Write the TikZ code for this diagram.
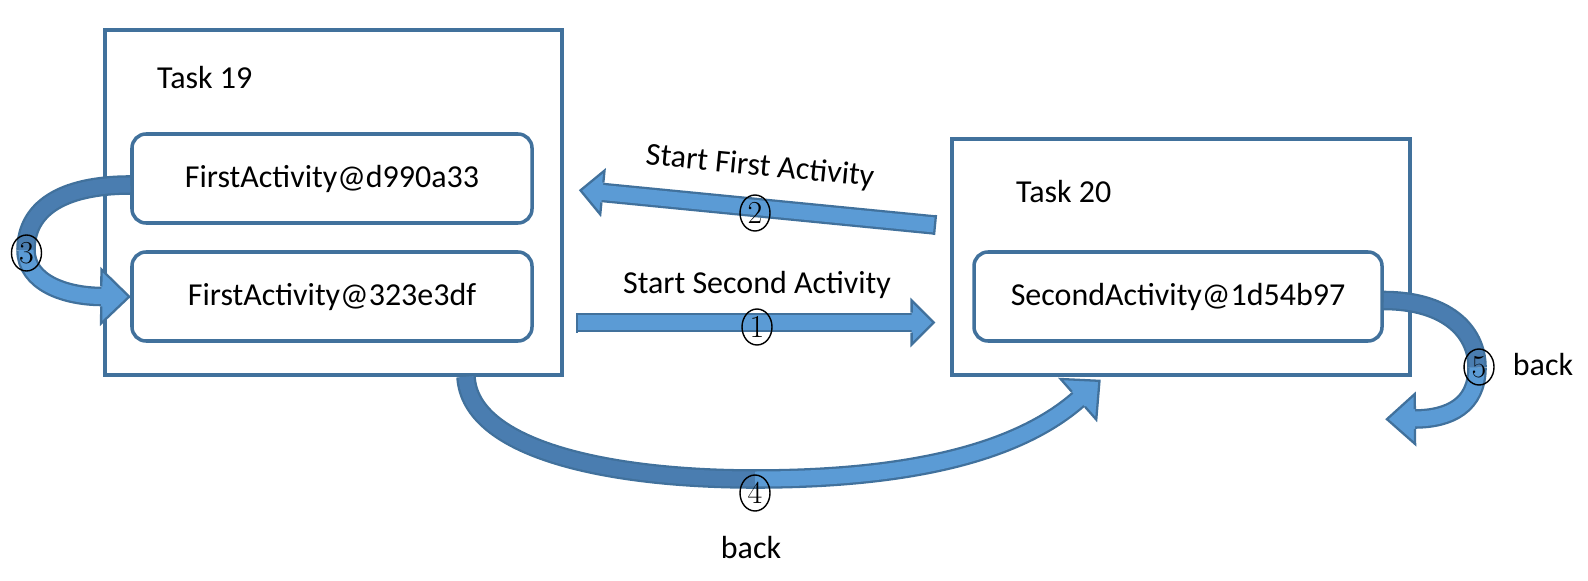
\documentclass[tikz,border=0pt]{standalone}
\usepackage{fontspec}
\setsansfont{Carlito}
\usetikzlibrary{shapes.geometric,decorations.markings}
\definecolor{boxline}{HTML}{41719C}
\definecolor{arrowline}{HTML}{41719C}
\definecolor{arrowfill}{HTML}{5B9BD5}
\definecolor{arrowdark}{HTML}{4A7DB0}
\newcommand{\bhead}[2]{%
  \fill[arrowfill] (0,-#2) -- (#1,0) -- (0,#2) -- cycle;
  \draw[arrowline, line width=1.3pt, line join=miter] (0,-0.2) -- (0,-#2) -- (#1,0) -- (0,#2) -- (0,0.2);}
\tikzset{
  taskbox/.style={draw=boxline, line width=2pt},
  actbox/.style={draw=boxline, line width=2pt, rounded corners=0.28cm, fill=white,
    minimum width=8cm, minimum height=1.78cm},
  band/.style={draw=arrowline, line width=1.3pt, double distance=0.3cm},
  lightband/.style={band, double=arrowfill},
  darkband/.style={band, double=arrowdark},
  headed/.style 2 args={postaction={decorate, decoration={markings,
    mark=at position 0.99 with {\bhead{#1}{#2}}}}},
  tailcap/.style={postaction={decorate, decoration={markings,
    mark=at position 0 with {\draw[arrowline, line width=1.3pt] (0,-0.2) -- (0,0.2);}}}},
  circnum/.style={ellipse, draw, line width=0.8pt, inner sep=0pt, minimum width=0.6cm,
    minimum height=0.72cm, font=\rmfamily\fontsize{18.2}{22}\selectfont}
}
\begin{document}
\begin{tikzpicture}[font=\sffamily\fontsize{18.2}{22}\selectfont]
  \useasboundingbox (0,0) rectangle (31.76,11.6);
  % tasks
  \node[taskbox, minimum width=9.14cm, minimum height=6.9cm] (t19) at (6.67,7.55) {};
  \node[taskbox, minimum width=9.16cm, minimum height=4.72cm] (t20) at (23.62,6.46) {};
  \node[anchor=west] (lab19) at (3.02,10.04) {Task 19};
  \node[anchor=west] (lab20) at (20.20,7.76) {Task 20};
  \node[actbox] (fa1) at (6.64,8.03) {FirstActivity@d990a33};
  \node[actbox] (fa2) at (6.64,5.67) {FirstActivity@323e3df};
  \node[actbox, minimum width=8.16cm] (sa) at (23.56,5.67) {SecondActivity@1d54b97};
  % straight arrows
  \coordinate (a1s) at (11.54,5.15);
  \coordinate (a1e) at (18.30,5.15);
  \coordinate (a2s) at (18.70,7.10);
  \coordinate (a2e) at (11.98,7.757);
  \draw[lightband, tailcap, headed={0.44}{0.44}] (a1s) -- (a1e);
  \draw[lightband, tailcap, headed={0.44}{0.44}] (a2s) -- (a2e);
  % curved arrows
  \coordinate (a3m) at (0.52,6.6);
  \coordinate (a3e) at ([xshift=-0.56cm]fa2.west);
  \draw[darkband] ([yshift=-0.13cm]fa1.west) .. controls (1.2,7.90) and (0.52,7.4) .. (a3m);
  \draw[lightband, headed={0.56}{0.54}] (a3m) .. controls (0.52,5.95) and (1.3,5.67) .. (a3e);
  \coordinate (a4m) at (15.1,2.02);
  \coordinate (a4e) at (21.62,3.66);
  \draw[darkband] ([xshift=2.65cm]t19.south) .. controls (9.4,2.6) and (12.2,2.02) .. (a4m);
  \draw[lightband, headed={0.56}{0.54}] (a4m) .. controls (18.2,2.02) and (20.4,2.55) .. (a4e);
  \coordinate (a5m) at (29.54,4.25);
  \coordinate (a5e) at (28.28,3.22);
  \draw[darkband] ([yshift=-0.08cm]sa.east) .. controls (28.9,5.59) and (29.54,5.0) .. (a5m);
  \draw[lightband, headed={0.56}{0.5}] (a5m) .. controls (29.54,3.5) and (29.0,3.22) .. (a5e);
  % labels
  \node[rotate=-5.5] (lfirst) at (15.2,8.26) {Start First Activity};
  \node (lsecond) at (15.14,5.90) {Start Second Activity};
  \node (lback4) at (15.02,0.64) {back};
  \node (lback5) at (30.86,4.30) {back};
  \node[circnum] (c1) at (15.14,5.06) {1};
  \node[circnum] (c2) at (15.10,7.34) {2};
  \node[circnum] (c3) at (0.53,6.54) {3};
  \node[circnum] (c4) at (15.10,1.74) {4};
  \node[circnum] (c5) at (29.58,4.26) {5};
\end{tikzpicture}
\end{document}
